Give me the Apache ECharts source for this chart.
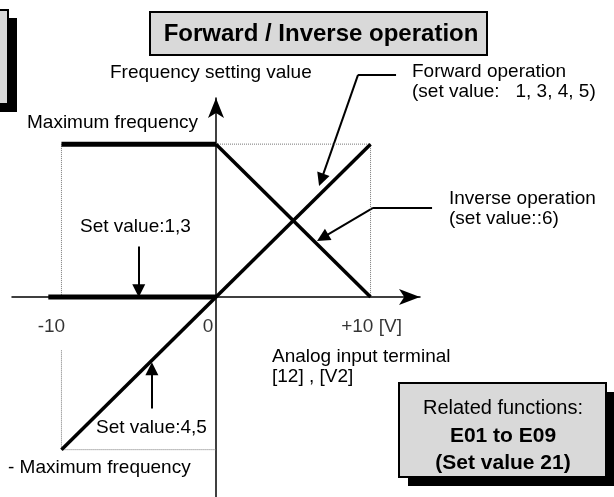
<!DOCTYPE html>
<html>
<head>
<meta charset="utf-8">
<script src="https://cdn.jsdelivr.net/npm/echarts@6/dist/echarts.min.js"></script>
<style>
  html, body { margin: 0; padding: 0; background: #fff; }
  #main { width: 614px; height: 497px; }
</style>
</head>
<body>
<div id="main"></div>
<script>
// x: input voltage [V], y: frequency setting (% of maximum frequency)
const tickValues = [-10, 0, 10];
const tickLabels = ['-10', '0', '+10 [V]'];

const setValue13 = [[-10.85, 0], [0, 0]];
const maxFreqLine = [[-10, 100], [0, 100]];
const forwardLine = [[-10, -100], [10, 100]];
const inverseLine = [[0, 100], [10, 0]];

const guideLines = [
  [[-10, 0], [-10, 100]],
  [[0, 100], [10, 100]],
  [[10, 100], [10, 0]],
  [[-10, -35], [-10, -100]],
  [[-10, -100], [0, -100]]
];

// leader lines (no head) and pointer arrows (head at the end)
const leaderLines = [
  [[11.65, 145.3], [9.19, 145.3]],
  [[13.98, 58.2], [10.16, 58.2]]
];
const pointerArrows = [
  [[-5, 33], [-5, 4]],
  [[-4.15, -73], [-4.15, -47]],
  [[9.19, 145.3], [6.81, 76.6]],
  [[10.16, 58.2], [6.9, 38.8]]
];

const FONT = '"Liberation Sans", Arial, sans-serif';

var chartDom = document.getElementById('main');
var myChart = echarts.init(chartDom);
var option;

function txt(x, y, s, size, bold, align) {
  return {
    type: 'text',
    x: x,
    y: y,
    z: 10,
    style: {
      text: s,
      fill: '#000',
      font: (bold ? 'bold ' : '') + size + 'px ' + FONT,
      textAlign: align || 'left',
      textVerticalAlign: 'middle'
    }
  };
}

function plain(data, width, type, color) {
  return {
    type: 'line',
    data: data,
    showSymbol: false,
    silent: true,
    clip: false,
    lineStyle: { color: color || '#000', width: width, type: type || 'solid' }
  };
}

function segments(list, head) {
  return {
    type: 'lines',
    coordinateSystem: 'cartesian2d',
    clip: false,
    silent: true,
    symbol: ['none', head],
    symbolSize: 13,
    lineStyle: { color: '#000', width: 2, opacity: 1 },
    data: list.map(c => ({ coords: c }))
  };
}

// tick labels sit a little left of their tick, except the last one
function tickLabelItem(v, i) {
  var dx = v < 0 ? -10 : (v === 0 ? -8 : 1);
  return { value: [v, 0], label: { formatter: tickLabels[i], offset: [dx, 0] } };
}

option = {
  animation: false,
  grid: { left: 12, right: 194, top: 98, bottom: 0, outerBoundsMode: 'none', containLabel: false },
  xAxis: {
    type: 'value',
    min: -13.2,
    max: 13.2,
    splitLine: { show: false },
    axisTick: { show: false },
    axisLabel: { show: false },
    axisLine: {
      onZero: true,
      lineStyle: { color: '#000', width: 1.5 },
      symbol: ['none', 'arrow'],
      symbolSize: [12, 21]
    }
  },
  yAxis: {
    type: 'value',
    min: -131,
    max: 130.2,
    splitLine: { show: false },
    axisTick: { show: false },
    axisLabel: { show: false },
    axisLine: {
      onZero: true,
      lineStyle: { color: '#000', width: 1.5 },
      symbol: ['none', 'arrow'],
      symbolSize: [12, 20]
    }
  },
  series: guideLines.map(d => plain(d, 1, 'dotted', '#777'))
    .concat([
      plain(setValue13, 5),
      plain(maxFreqLine, 5),
      plain(forwardLine, 3.5),
      plain(inverseLine, 3.5),
      segments(leaderLines, 'none'),
      segments(pointerArrows, 'triangle'),
      {
        type: 'scatter',
        silent: true,
        symbolSize: 0,
        label: {
          show: true,
          position: 'bottom',
          distance: 20,
          color: '#000',
          fontSize: 19,
          fontFamily: FONT
        },
        data: tickValues.map(tickLabelItem)
      }
    ]),
  graphic: [
    { type: 'rect', shape: { x: 0, y: 18, width: 17, height: 94 }, style: { fill: '#000' } },
    { type: 'rect', shape: { x: -10, y: 10, width: 18, height: 94 }, style: { fill: '#d9d9d9', stroke: '#000', lineWidth: 2 } },
    { type: 'rect', shape: { x: 150, y: 12, width: 337, height: 43 }, style: { fill: '#d9d9d9', stroke: '#000', lineWidth: 2 } },
    txt(321, 34, 'Forward / Inverse operation', 24, true, 'center'),
    { type: 'rect', shape: { x: 408, y: 392, width: 206, height: 94 }, style: { fill: '#000' } },
    { type: 'rect', shape: { x: 399, y: 383, width: 207, height: 94 }, style: { fill: '#d9d9d9', stroke: '#000', lineWidth: 2 } },
    txt(503, 408, 'Related functions:', 20, false, 'center'),
    txt(503, 436, 'E01 to E09', 21, true, 'center'),
    txt(503, 463, '(Set value 21)', 21, true, 'center'),
    txt(110, 73, 'Frequency setting value', 19),
    txt(27, 123, 'Maximum frequency', 19),
    txt(8, 468, '- Maximum frequency', 19),
    txt(412, 72, 'Forward operation', 19),
    txt(412, 92, '(set value:   1, 3, 4, 5)', 19),
    txt(449, 199, 'Inverse operation', 19),
    txt(449, 219, '(set value::6)', 19),
    txt(80, 227, 'Set value:1,3', 19),
    txt(96, 428, 'Set value:4,5', 19),
    txt(272, 357, 'Analog input terminal', 19),
    txt(272, 377, '[12] , [V2]', 19)
  ]
};

option && myChart.setOption(option);

window.onresize = function() {
  myChart.resize();
};
</script>
</body>
</html>
